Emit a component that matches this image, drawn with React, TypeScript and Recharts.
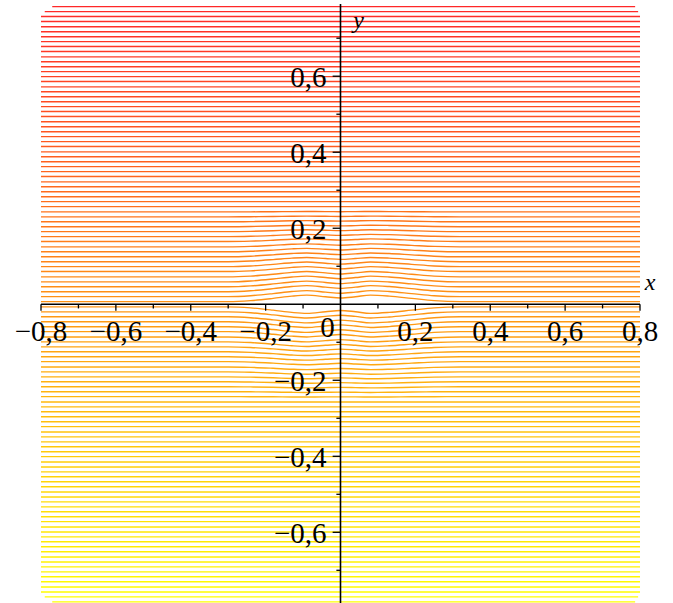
import { ComposedChart, Line, XAxis, YAxis, ReferenceLine, ReferenceDot } from "recharts"

// stream line levels (y at the left / right edges)
const upperLevels = [
  0.007, 0.020, 0.033, 0.046, 0.059, 0.072, 0.086, 0.099, 0.112, 0.125,
  0.138, 0.151, 0.165, 0.178, 0.191, 0.204, 0.217, 0.230, 0.243, 0.257,
  0.270, 0.283, 0.296, 0.309, 0.322, 0.336, 0.349, 0.362, 0.375, 0.388,
  0.401, 0.415, 0.428, 0.441, 0.454, 0.467, 0.480, 0.494, 0.507, 0.520,
  0.533, 0.546, 0.559, 0.572, 0.586, 0.599, 0.612, 0.625, 0.638, 0.651,
  0.665, 0.678, 0.691, 0.704, 0.717, 0.730, 0.744, 0.757, 0.770, 0.783,
]
const lowerLevels = [
  -0.007, -0.020, -0.033, -0.046, -0.059, -0.072, -0.086, -0.099, -0.112, -0.125,
  -0.138, -0.151, -0.165, -0.178, -0.191, -0.204, -0.217, -0.230, -0.243, -0.257,
  -0.270, -0.283, -0.296, -0.309, -0.322, -0.336, -0.349, -0.362, -0.375, -0.388,
  -0.401, -0.415, -0.428, -0.441, -0.454, -0.467, -0.480, -0.494, -0.507, -0.520,
  -0.533, -0.546, -0.559, -0.572, -0.586, -0.599, -0.612, -0.625, -0.638, -0.651,
  -0.665, -0.678, -0.691, -0.704, -0.717, -0.730, -0.744, -0.757, -0.770, -0.783,
]

// how far the lines nearest the axis are pushed away from it (index 0 = closest)
const upperShift = [0.017, 0.016, 0.016, 0.015, 0.015, 0.014, 0.013, 0.012, 0.011, 0.010,
  0.009, 0.008, 0.007, 0.006, 0.005, 0.004, 0.003, 0.002, 0.001]
const lowerShift = [0.017, 0.016, 0.016, 0.015, 0.015, 0.014, 0.013, 0.012, 0.011, 0.010,
  0.009, 0.008, 0.007, 0.006, 0.005, 0.004, 0.003, 0.002, 0.001]

// shape of the bump along x
const bumpX = [-0.3, -0.24, -0.18, -0.13, -0.09, -0.04, 0, 0.04, 0.08, 0.13, 0.19, 0.25, 0.32]
const bumpShape = [0, 0.15, 0.5, 0.85, 1, 0.75, 0.55, 0.75, 1, 0.85, 0.5, 0.15, 0]

// the outermost lines are a bit shorter (rounded corners of the region)
const edgeStart = [-0.77, -0.79]
const edgeEnd = [0.787, 0.795]

const xMajor = [-0.8, -0.6, -0.4, -0.2, 0.2, 0.4, 0.6, 0.8]
const xMinor = [-0.7, -0.5, -0.3, -0.1, 0.1, 0.3, 0.5, 0.7]
const xLabels = ["−0,8", "−0,6", "−0,4", "−0,2", "0,2", "0,4", "0,6", "0,8"]
const yMajor = [0.6, 0.4, 0.2, -0.2, -0.4, -0.6]
const yMinor = [0.7, 0.5, 0.3, 0.1, -0.1, -0.3, -0.5, -0.7]
const yLabels = ["0,6", "0,4", "0,2", "−0,2", "−0,4", "−0,6"]

const FONT = "'Liberation Serif', 'Times New Roman', serif"

// red at the top, orange in the middle, yellow at the bottom
function lineColor(level: number) {
  const t = (0.783 - level) / 1.566
  const g = Math.round(40 + 215 * t)
  const b = Math.round(40 * (1 - t))
  return `rgb(255,${g},${b})`
}

function buildLine(level: number, index: number, shift: number | undefined, sign: number) {
  const fromEdge = 59 - index
  const x0 = fromEdge < 2 ? edgeStart[fromEdge] : -0.8
  const x1 = fromEdge < 2 ? edgeEnd[fromEdge] : 0.8
  if (!shift) return [{ x: x0, y: level }, { x: x1, y: level }]
  return [
    { x: x0, y: level },
    ...bumpX.map((x, i) => ({ x, y: level + sign * shift * bumpShape[i] })),
    { x: x1, y: level },
  ]
}

const streamLines = [
  ...upperLevels.map((lv, i) => ({ level: lv, data: buildLine(lv, i, upperShift[i], 1) })),
  ...lowerLevels.map((lv, i) => ({ level: lv, data: buildLine(lv, i, lowerShift[i], -1) })),
]

export default function App() {
  return (
    <div style={{ position: "absolute", left: 0, top: 0, width: 673, height: 603, background: "#fff" }}>
      <ComposedChart width={673} height={603} margin={{ top: 4, right: 33, bottom: 0, left: 41 }}>
        <XAxis type="number" dataKey="x" domain={[-0.8, 0.8]} allowDataOverflow hide />
        <YAxis type="number" dataKey="y" domain={[-0.786, 0.79]} allowDataOverflow hide />
        {streamLines.map((s, i) => (
          <Line
            key={i}
            data={s.data}
            dataKey="y"
            type="monotone"
            stroke={lineColor(s.level)}
            strokeWidth={1.4}
            dot={false}
            activeDot={false}
            isAnimationActive={false}
          />
        ))}
        <ReferenceLine y={0} stroke="#000" strokeWidth={1.6} />
        <ReferenceLine x={0} stroke="#000" strokeWidth={1.6} />
        {xMajor.map((t) => (
          <ReferenceLine key={"xM" + t} segment={[{ x: t, y: 0 }, { x: t, y: -0.017 }]} stroke="#000" strokeWidth={1.3} />
        ))}
        {xMinor.map((t) => (
          <ReferenceLine key={"xm" + t} segment={[{ x: t, y: 0 }, { x: t, y: -0.011 }]} stroke="#000" strokeWidth={1.3} />
        ))}
        {yMajor.map((t) => (
          <ReferenceLine key={"yM" + t} segment={[{ x: -0.021, y: t }, { x: 0, y: t }]} stroke="#000" strokeWidth={1.3} />
        ))}
        {yMinor.map((t) => (
          <ReferenceLine key={"ym" + t} segment={[{ x: -0.011, y: t }, { x: 0, y: t }]} stroke="#000" strokeWidth={1.3} />
        ))}
        {xMajor.map((t, i) => (
          <ReferenceDot
            key={"xl" + t}
            x={t}
            y={0}
            r={0}
            shape={(p: any) => (
              <text x={p.cx} y={p.cy + 37} textAnchor="middle" fontFamily={FONT} fontSize={29} fill="#000">
                {xLabels[i]}
              </text>
            )}
          />
        ))}
        {yMajor.map((t, i) => (
          <ReferenceDot
            key={"yl" + t}
            x={0}
            y={t}
            r={0}
            shape={(p: any) => (
              <text x={p.cx - 14} y={p.cy + 11} textAnchor="end" fontFamily={FONT} fontSize={29} fill="#000">
                {yLabels[i]}
              </text>
            )}
          />
        ))}
        <ReferenceDot
          x={0}
          y={0}
          r={0}
          shape={(p: any) => (
            <text x={p.cx - 13} y={p.cy + 33} textAnchor="middle" fontFamily={FONT} fontSize={29} fill="#000">
              0
            </text>
          )}
        />
        <ReferenceDot
          x={0.8}
          y={0}
          r={0}
          shape={(p: any) => (
            <text x={p.cx + 10} y={p.cy - 14} textAnchor="middle" fontFamily={FONT} fontStyle="italic" fontSize={24} fill="#000">
              x
            </text>
          )}
        />
        <ReferenceDot
          x={0}
          y={0.79}
          r={0}
          shape={(p: any) => (
            <text x={p.cx + 18} y={p.cy + 24} textAnchor="middle" fontFamily={FONT} fontStyle="italic" fontSize={24} fill="#000">
              y
            </text>
          )}
        />
      </ComposedChart>
    </div>
  )
}
